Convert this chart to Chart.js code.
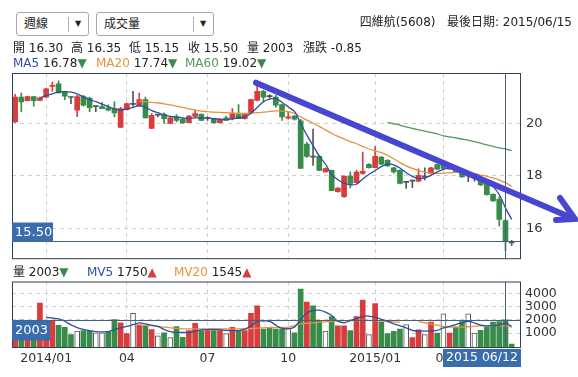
<!DOCTYPE html>
<html>
<head>
<meta charset="utf-8">
<script src="https://cdn.jsdelivr.net/npm/chart.js@4.4.1/dist/chart.umd.min.js"></script>
<style>
  body { margin: 0; background: #fff; }
  #wrap { position: relative; width: 578px; height: 377px; overflow: hidden;
          font-family: "DejaVu Sans", "Noto Sans CJK TC", sans-serif; font-size: 12px; color: #222; }
  canvas { position: absolute; left: 0; }
  .t { position: absolute; white-space: nowrap; line-height: 14px; z-index: 5; }
  .sel { position: absolute; top: 12px; height: 22px; border: 1px solid #a8a8a8; border-radius: 3px; background: #fff; z-index: 5; }
  .sel .lbl { position: absolute; left: 7px; top: 4px; line-height: 14px; }
  .sel .sep { position: absolute; top: 4px; width: 1px; height: 15px; background: #b0b0b0; }
  .sel .arr { position: absolute; top: 6px; font-size: 8px; line-height: 10px; }
  .blue { color: #2c4f9e; } .orange { color: #e8913e; } .green { color: #4f9b5e; }
  .dn { color: #388c4a; } .up { color: #d83d3d; }
</style>
</head>
<body>
<div id="wrap">
  <canvas id="priceChart" width="578" height="272" style="top:0"></canvas>
  <canvas id="volumeChart" width="578" height="107" style="top:270px"></canvas>

  <div class="sel" style="left:16px; width:71px;">
    <span class="lbl">週線</span><span class="sep" style="left:51px"></span><span class="arr" style="left:58px">▼</span>
  </div>
  <div class="sel" style="left:96px; width:116px;">
    <span class="lbl">成交量</span><span class="sep" style="left:96px"></span><span class="arr" style="left:103px">▼</span>
  </div>
  <div class="t" style="right:6px; top:15px;">四維航(5608)&nbsp;&nbsp;&nbsp;最後日期: 2015/06/15</div>

  <div class="t" style="left:13px; top:41px;">開 16.30</div>
  <div class="t" style="left:71px; top:41px;">高 16.35</div>
  <div class="t" style="left:129px; top:41px;">低 15.15</div>
  <div class="t" style="left:188px; top:41px;">收 15.50</div>
  <div class="t" style="left:247px; top:41px;">量 2003</div>
  <div class="t" style="left:303px; top:41px;">漲跌 -0.85</div>

  <div class="t" style="left:13px; top:56px;"><span class="blue">MA5</span> 16.78<span class="dn">▼</span></div>
  <div class="t" style="left:96px; top:56px;"><span class="orange">MA20</span> 17.74<span class="dn">▼</span></div>
  <div class="t" style="left:185px; top:56px;"><span class="green">MA60</span> 19.02<span class="dn">▼</span></div>

  <div class="t" style="left:13px; top:265px;">量 2003<span class="dn">▼</span></div>
  <div class="t" style="left:87px; top:265px;"><span class="blue">MV5</span> 1750<span class="up">▲</span></div>
  <div class="t" style="left:174px; top:265px;"><span class="orange">MV20</span> 1545<span class="up">▲</span></div>
</div>

<script>
// weekly candles
const weekOpen = [20.05,20.99,20.86,21.01,20.87,20.99,21.40,21.50,21.19,20.98,20.50,21.01,20.96,20.63,20.63,20.59,20.56,19.84,20.52,20.72,
  20.65,20.90,19.80,20.31,20.34,19.99,20.24,20.16,20.02,20.26,20.34,20.18,20.17,20.02,20.21,20.17,20.33,20.17,20.39,20.87,
  21.21,21.01,20.99,20.71,20.19,20.27,20.09,19.21,18.71,18.74,18.15,18.21,17.40,17.21,17.99,17.74,18.09,18.44,18.31,18.71,
  18.59,18.30,18.21,17.75,17.80,17.80,17.95,18.09,18.43,18.43,18.25,18.34,18.18,18.00,17.96,17.90,17.71,17.30,17.11,16.30,15.45];
const weekHigh = [21.10,21.15,21.03,21.02,20.99,21.34,21.56,21.61,21.19,20.99,21.06,21.06,20.99,20.65,20.79,20.70,20.81,20.60,20.77,21.21,
  21.15,20.99,20.37,20.34,20.40,20.23,20.33,20.18,20.30,20.50,20.36,20.24,20.18,20.17,20.27,20.56,20.71,20.38,20.92,21.42,
  21.25,21.09,21.06,20.74,20.41,20.30,20.15,19.27,19.78,18.78,18.30,18.22,17.55,18.00,18.15,18.21,18.90,18.47,19.11,18.73,
  18.62,18.32,18.23,17.78,17.84,18.27,18.30,18.32,18.45,18.46,18.40,18.36,18.20,18.15,18.09,17.92,17.73,17.32,17.21,16.35,15.55];
const weekLow = [20.03,20.44,20.85,20.65,20.86,20.98,21.21,21.15,20.90,20.74,20.25,20.65,20.44,20.44,20.55,20.47,20.24,19.84,20.50,20.65,
  20.65,20.20,19.80,20.24,19.99,19.98,20.05,20.00,20.02,20.24,20.10,20.11,20.00,20.00,20.11,20.13,20.17,20.15,20.36,20.85,
  20.80,20.94,20.61,20.11,20.15,20.12,18.28,18.70,18.40,18.20,18.14,17.44,17.38,17.18,17.54,17.72,18.05,18.29,18.30,18.42,
  18.36,18.10,17.69,17.52,17.55,17.78,17.84,18.07,18.23,18.26,18.24,18.13,17.94,17.78,17.80,17.63,17.26,17.03,16.09,15.15,15.35];
const weekClose = [20.99,20.81,21.01,20.86,20.97,21.31,21.43,21.15,21.03,20.98,21.01,20.69,20.59,20.63,20.55,20.50,20.39,20.56,20.75,20.72,
  20.90,20.20,20.30,20.31,20.17,20.21,20.11,20.01,20.27,20.37,20.11,20.18,20.02,20.16,20.11,20.37,20.17,20.34,20.90,21.21,
  20.99,21.01,20.69,20.24,20.24,20.15,18.28,18.74,18.71,18.21,18.28,17.44,17.53,17.99,17.71,18.14,18.17,18.31,18.74,18.44,
  18.38,18.15,17.71,17.75,17.80,18.02,17.95,18.30,18.25,18.28,18.38,18.15,17.96,18.00,17.96,17.65,17.28,17.05,16.34,15.50,15.45];

const weekVolume = [1800,2000,1500,1300,3300,1700,1900,1590,1430,880,1140,1190,1140,1020,1020,1120,2020,1780,950,2500,
  1620,1590,1260,790,1020,640,1500,670,1190,1740,1190,1190,1190,1190,950,1430,1190,1190,2500,3090,
  1310,1380,1310,1310,1380,1020,4360,3380,3090,1900,1140,2260,1550,1550,1190,2260,3520,880,3260,1830,
  950,1120,1300,1640,640,1240,880,1830,1000,2470,1000,1450,1880,2470,1000,1200,1450,1830,1880,2003,150];
// r = up week, g = down week, w = hollow bar
const volumeKind = ('rgrgrrrggg' + 'wggwwggrrw' + 'rgrwgwggrr' + 'grgrwrgrrr' + 'ggggwggrgg' +
  'wgrrgrrwrg' + 'gggwrrwrgw' + 'rggwwggggg' + 'g').split('');

const ma5 = [null,null,null,null,20.96,21.05,21.12,21.19,21.20,21.18,21.12,21.00,20.90,20.82,20.73,20.63,20.55,20.50,20.55,20.60,
  20.68,20.60,20.48,20.40,20.32,20.26,20.24,20.20,20.18,20.20,20.20,20.20,20.17,20.15,20.14,20.17,20.20,20.24,20.38,20.60,
  20.82,20.92,20.94,20.80,20.62,20.45,20.00,19.55,19.15,18.75,18.45,18.05,17.85,17.72,17.66,17.68,17.88,18.05,18.20,18.35,
  18.45,18.42,18.30,18.12,17.98,17.90,17.92,18.02,18.15,18.25,18.30,18.28,18.20,18.12,18.05,17.95,17.80,17.60,17.28,16.78,16.34];
const ma20 = [null,null,null,null,null,null,null,null,null,null,null,null,null,null,null,null,null,null,null,null,
  20.84,20.82,20.79,20.77,20.74,20.70,20.65,20.60,20.55,20.50,20.46,20.44,20.42,20.41,20.40,20.39,20.38,20.37,20.38,20.40,
  20.42,20.45,20.47,20.46,20.44,20.38,20.24,20.12,20.00,19.88,19.75,19.62,19.50,19.40,19.30,19.22,19.12,19.02,18.95,18.88,
  18.78,18.65,18.50,18.38,18.28,18.20,18.14,18.10,18.09,18.10,18.12,18.13,18.14,18.12,18.08,18.03,17.98,17.92,17.84,17.74,17.60];
const ma60 = [null,null,null,null,null,null,null,null,null,null,null,null,null,null,null,null,null,null,null,null,
  null,null,null,null,null,null,null,null,null,null,null,null,null,null,null,null,null,null,null,null,
  null,null,null,null,null,null,null,null,null,null,null,null,null,null,null,null,null,null,null,null,
  20.03,19.98,19.93,19.86,19.80,19.75,19.70,19.65,19.60,19.52,19.48,19.44,19.40,19.36,19.30,19.24,19.18,19.12,19.06,19.02,18.96];
const mv5 = [null,null,null,null,null,2190,2150,2080,1900,1620,1420,1280,1180,1110,1080,1100,1260,1400,1500,1640,
  1770,1700,1600,1500,1280,1110,1050,1050,1030,1150,1240,1260,1280,1250,1200,1180,1190,1300,1550,1900,
  1920,1900,1600,1350,1320,1450,2030,2550,2720,2750,2600,2350,1900,1780,1950,2100,2280,2300,2200,2050,
  1900,1700,1550,1400,1200,1150,1150,1170,1200,1400,1500,1650,1800,1900,1780,1600,1550,1550,1600,1750,1500];
const mv20 = [null,null,null,null,null,null,null,null,null,null,null,null,null,null,null,null,null,null,null,null,
  1590,1580,1560,1500,1450,1400,1350,1320,1310,1310,1310,1310,1310,1310,1310,1310,1310,1320,1340,1380,
  1400,1420,1420,1430,1450,1560,1700,1740,1780,1820,1860,1900,1920,1940,1950,1960,1970,1970,1960,1920,
  1880,1850,1820,null,null,1880,1780,1680,1600,1500,1460,1450,1450,1480,1510,1550,1560,1560,1550,1545,1450];

const slotCount = 82;
const tickIdx = [5, 18, 31, 44, 58, 69];
const tickText = ['2014/01', '04', '07', '10', '2015/01', '04'];
const priceTicks = [16, 18, 20];
const volumeTicks = [1000, 2000, 3000, 4000];

const cursorIdx = 79;
const cursorClose = 15.50;
const cursorVolume = 2003;
const cursorDate = '2015 06/12';
const arrowFrom = [38.8, 21.54];
const arrowTo = [90.2, 16.36];

const RED = '#d83d3d', GREEN = '#388c4a', DOJI = '#555555';
const BOX = '#3a6dab', FRAME = '#2f4050', CURSOR = '#46627a', GRID = '#cfcfcf';

Chart.defaults.font.family = '"DejaVu Sans", sans-serif';
Chart.defaults.font.size = 12;
Chart.defaults.color = '#333';

const slotLabels = Array.from({ length: slotCount }, (_, i) => String(i));
const candleColors = weekOpen.map((o, i) => weekClose[i] > o ? RED : (weekClose[i] < o ? GREEN : DOJI));
const bodies = weekOpen.map((o, i) => [Math.min(o, weekClose[i]), Math.max(o, weekClose[i])]);
const wicks = weekLow.map((l, i) => [l, weekHigh[i]]);
const gridX = c => tickIdx.includes(c.index) ? GRID : 'rgba(0,0,0,0)';

function frame(ctx, a) {
  ctx.strokeStyle = FRAME;
  ctx.lineWidth = 1;
  ctx.strokeRect(a.left + 0.5, a.top + 0.5, a.width - 1, a.height - 1);
}

const priceDecor = {
  id: 'priceDecor',
  afterDraw(chart) {
    const { ctx, chartArea: a, scales: { x, y } } = chart;
    ctx.save();
    frame(ctx, a);
    const py = Math.round(y.getPixelForValue(cursorClose)) - 0.5;
    const cx = Math.round(x.getPixelForValue(cursorIdx)) + 0.5;
    ctx.strokeStyle = CURSOR;
    ctx.beginPath();
    ctx.moveTo(a.left, py); ctx.lineTo(a.right, py);
    ctx.moveTo(cx, a.top); ctx.lineTo(cx, a.bottom);
    ctx.stroke();
    // price tag
    ctx.fillStyle = BOX;
    ctx.fillRect(a.left, py - 19, 41, 19);
    ctx.fillStyle = '#fff';
    ctx.font = '13px "DejaVu Sans"';
    ctx.textBaseline = 'middle';
    ctx.fillText(cursorClose.toFixed(2), a.left + 3, py - 9);
    // hand drawn trend arrow
    const x0 = x.getPixelForValue(arrowFrom[0]), y0 = y.getPixelForValue(arrowFrom[1]);
    const x1 = x.getPixelForValue(arrowTo[0]), y1 = y.getPixelForValue(arrowTo[1]);
    ctx.strokeStyle = '#4646d2';
    ctx.lineWidth = 6;
    ctx.lineCap = 'round';
    ctx.beginPath();
    ctx.moveTo(x0, y0); ctx.lineTo(x1 - 3, y1 - 1);
    ctx.moveTo(x1 - 15, y1 - 21); ctx.lineTo(x1, y1);
    ctx.lineTo(x1 - 19, y1 + 1);
    ctx.stroke();
    ctx.restore();
  }
};

const volumeDecor = {
  id: 'volumeDecor',
  afterDraw(chart) {
    const { ctx, chartArea: a, scales: { x, y } } = chart;
    ctx.save();
    frame(ctx, a);
    const vy = Math.round(y.getPixelForValue(cursorVolume)) + 0.5;
    const cx = Math.round(x.getPixelForValue(cursorIdx)) + 0.5;
    ctx.strokeStyle = CURSOR;
    ctx.beginPath();
    ctx.moveTo(a.left, vy); ctx.lineTo(a.right, vy);
    ctx.moveTo(cx, a.top); ctx.lineTo(cx, a.bottom);
    ctx.stroke();
    ctx.fillStyle = BOX;
    ctx.fillRect(a.left, vy, 38, 20);
    ctx.fillRect(a.right - 78, a.bottom + 1, 78, 18);
    ctx.fillStyle = '#fff';
    ctx.font = '13px "DejaVu Sans"';
    ctx.textBaseline = 'middle';
    ctx.fillText(String(cursorVolume), a.left + 3, vy + 10);
    ctx.font = '12.5px "DejaVu Sans"';
    ctx.textAlign = 'center';
    ctx.fillText(cursorDate, a.right - 39, a.bottom + 10);
    ctx.restore();
  }
};

const maLine = (data, color) => ({
  type: 'line', data: data, borderColor: color, borderWidth: 1.3,
  pointRadius: 0, tension: 0.3, spanGaps: false, order: 0
});

new Chart(document.getElementById('priceChart'), {
  type: 'bar',
  data: {
    labels: slotLabels,
    datasets: [
      maLine(ma5, '#2c4f9e'),
      maLine(ma20, '#e8913e'),
      maLine(ma60, '#4f9b5e'),
      { data: bodies, backgroundColor: candleColors, barThickness: 5, minBarLength: 1, grouped: false, order: 1 },
      { data: wicks, backgroundColor: candleColors, barThickness: 1, grouped: false, order: 2 }
    ]
  },
  options: {
    responsive: false,
    animation: false,
    layout: { padding: { left: 12, top: 73, right: 0, bottom: 10 } },
    plugins: { legend: { display: false }, tooltip: { enabled: false } },
    scales: {
      x: {
        offset: true,
        grid: { offset: false, color: gridX, drawTicks: false },
        border: { display: false, dash: [4, 4] },
        ticks: { display: false, autoSkip: false },
        afterFit: s => { s.height = 0; }
      },
      y: {
        position: 'right',
        min: 14.83,
        max: 21.91,
        afterBuildTicks: s => { s.ticks = priceTicks.map(v => ({ value: v })); },
        afterFit: s => { s.width = 57; },
        grid: { color: GRID, drawTicks: false },
        border: { display: false, dash: [4, 4] },
        ticks: { padding: 5, font: { size: 13 }, callback: v => String(v) }
      }
    }
  },
  plugins: [priceDecor]
});

new Chart(document.getElementById('volumeChart'), {
  type: 'bar',
  data: {
    labels: slotLabels,
    datasets: [
      maLine(mv5, '#2c4f9e'),
      maLine(mv20, '#e8913e'),
      {
        data: weekVolume,
        base: -150,
        backgroundColor: volumeKind.map(k => k === 'r' ? RED : (k === 'g' ? GREEN : '#fff')),
        borderColor: volumeKind.map(k => k === 'w' ? '#555' : 'rgba(0,0,0,0)'),
        borderWidth: volumeKind.map(k => k === 'w' ? 1 : 0),
        barThickness: 5,
        order: 1
      }
    ]
  },
  options: {
    responsive: false,
    animation: false,
    layout: { padding: { left: 12, top: 9, right: 0, bottom: 9 } },
    plugins: { legend: { display: false }, tooltip: { enabled: false } },
    scales: {
      x: {
        offset: true,
        grid: { offset: false, color: gridX, drawTicks: false },
        border: { display: false, dash: [4, 4] },
        ticks: {
          autoSkip: false, maxRotation: 0, padding: 3, font: { size: 12.5 },
          callback: (v, i) => { const k = tickIdx.indexOf(i); return k >= 0 ? tickText[k] : ''; }
        },
        afterFit: s => { s.height = 20; }
      },
      y: {
        position: 'right',
        min: -150,
        max: 4950,
        afterBuildTicks: s => { s.ticks = volumeTicks.map(v => ({ value: v })); },
        afterFit: s => { s.width = 57; },
        grid: { color: GRID, drawTicks: false },
        border: { display: false, dash: [4, 4] },
        ticks: { padding: 4, font: { size: 12.5 }, callback: v => String(v) }
      }
    }
  },
  plugins: [volumeDecor]
});
</script>
</body>
</html>
